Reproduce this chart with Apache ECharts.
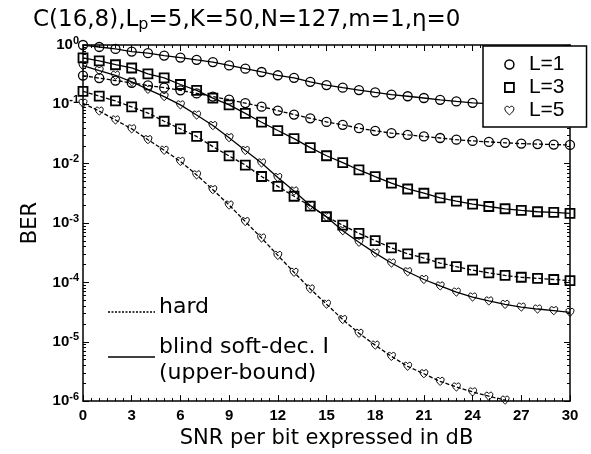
<!DOCTYPE html>
<html>
<head>
<meta charset="utf-8">
<script src="https://cdn.jsdelivr.net/npm/echarts@6/dist/echarts.min.js"></script>
<style>
  html, body { margin: 0; padding: 0; background: #fff; }
  #chart { width: 591px; height: 454px; }
</style>
</head>
<body>
<div id="chart"></div>
<script>
// SNR per bit (dB)
var snr = [0, 1, 2, 3, 4, 5, 6, 7, 8, 9, 10, 11, 12, 13, 14, 15, 16, 17, 18, 19, 20, 21, 22, 23, 24, 25, 26, 27, 28, 29, 30];
var xTicks = [0, 3, 6, 9, 12, 15, 18, 21, 24, 27, 30];

// blind soft-dec. I (upper-bound), solid
var l1Soft = [1.0, 0.926, 0.858, 0.774, 0.728, 0.664, 0.615, 0.563, 0.516, 0.453, 0.399, 0.351, 0.309, 0.280, 0.240, 0.211, 0.191, 0.174, 0.159, 0.146, 0.137, 0.128, 0.119, 0.112, 0.106, 0.103, 0.0995, 0.097, 0.095, 0.093, 0.0915];
var l3Soft = [0.608, 0.542, 0.465, 0.410, 0.326, 0.280, 0.216, 0.172, 0.127, 0.098, 0.0705, 0.050, 0.0362, 0.0264, 0.0187, 0.0136, 0.0104, 0.00784, 0.00604, 0.00471, 0.00375, 0.00318, 0.00265, 0.00234, 0.00209, 0.00190, 0.00174, 0.00163, 0.00155, 0.00151, 0.00146];
var l5Soft = [0.448, 0.370, 0.309, 0.240, 0.179, 0.135, 0.098, 0.066, 0.0439, 0.0274, 0.0167, 0.0103, 0.00586, 0.00347, 0.00198, 0.00127, 0.000743, 0.000475, 0.000311, 0.000212, 0.000151, 0.000112, 0.0000871, 0.0000687, 0.0000567, 0.0000487, 0.0000426, 0.0000384, 0.0000356, 0.0000334, 0.0000313];

// hard decision, dashed
var l1Hard = [0.305, 0.277, 0.252, 0.231, 0.208, 0.191, 0.172, 0.153, 0.135, 0.120, 0.105, 0.0915, 0.0785, 0.0673, 0.0582, 0.0506, 0.0451, 0.0397, 0.0358, 0.0328, 0.0307, 0.0288, 0.0271, 0.0254, 0.0242, 0.0233, 0.0225, 0.0218, 0.0214, 0.0210, 0.0207];
var l3Hard = [0.1655, 0.138, 0.114, 0.0908, 0.0713, 0.0519, 0.0386, 0.0288, 0.0194, 0.0135, 0.00949, 0.00609, 0.00415, 0.00283, 0.00193, 0.00128, 0.00092, 0.00067, 0.000506, 0.000381, 0.000303, 0.000257, 0.000212, 0.000184, 0.000161, 0.000145, 0.000131, 0.000122, 0.000117, 0.000112, 0.000107];
var l5Hard = [0.1045, 0.0770, 0.0546, 0.0387, 0.0254, 0.01686, 0.01094, 0.00648, 0.00365, 0.00201, 0.00106, 0.000560, 0.000285, 0.000148, 0.0000776, 0.0000430, 0.0000237, 0.0000139, 0.00000877, 0.00000567, 0.00000386, 0.00000289, 0.00000215, 0.00000173, 0.00000143, 0.00000121, 0.00000104];

var heart = 'path://M10,18 C10,18 1,12 1,6 C1,3 3,1 5.5,1 C7.5,1 9,2.5 10,4 C11,2.5 12.5,1 14.5,1 C17,1 19,3 19,6 C19,12 10,18 10,18 Z';

function pairs(ys) {
  var out = [];
  for (var i = 0; i < ys.length; i++) out.push([snr[i], ys[i]]);
  return out;
}

function makeSeries(name, ys, symbol, size, bw, dashed) {
  return {
    name: name,
    type: 'line',
    data: pairs(ys),
    symbol: symbol,
    symbolSize: size,
    showAllSymbol: true,
    clip: true,
    itemStyle: { color: 'none', borderColor: '#000', borderWidth: bw },
    lineStyle: { color: '#000', width: 1.3, type: dashed ? [4, 2] : 'solid' },
    emphasis: { disabled: true },
    z: 3
  };
}

var tickFont = { fontFamily: 'Liberation Sans', fontWeight: 'bold', fontSize: 15, color: '#000' };

var chart = echarts.init(document.getElementById('chart'), null, { renderer: 'canvas' });
chart.setOption({
  animation: false,
  backgroundColor: '#fff',
  title: {
    text: 'C(16,8),L{sub|p}=5,K=50,N=127,m=1,η=0',
    left: 28,
    top: 2,
    textStyle: {
      fontFamily: 'DejaVu Sans', fontWeight: 'normal', fontSize: 23, color: '#000',
      rich: { sub: { fontFamily: 'DejaVu Sans', fontSize: 16, padding: [10, 0, 0, 0], color: '#000' } }
    }
  },
  grid: { left: 83, top: 45, right: 21, bottom: 48, containLabel: false },
  legend: {
    left: 483,
    top: 46,
    orient: 'vertical',
    backgroundColor: '#fff',
    borderColor: '#000',
    borderWidth: 1.5,
    borderRadius: 0,
    padding: [8, 22, 6, 21],
    itemGap: 2,
    itemWidth: 9,
    itemHeight: 9,
    selectedMode: false,
    textStyle: { fontFamily: 'Liberation Sans', fontSize: 21, color: '#000', lineHeight: 21, padding: [0, 0, 0, 10] },
    data: [
      { name: 'L=1', icon: 'circle', itemStyle: { color: '#fff', borderColor: '#000', borderWidth: 1.5 } },
      { name: 'L=3', icon: 'rect', itemStyle: { color: '#fff', borderColor: '#000', borderWidth: 1.8 } },
      { name: 'L=5', icon: heart, itemStyle: { color: '#fff', borderColor: '#000', borderWidth: 1 } }
    ],
    z: 10
  },
  xAxis: [
    {
      type: 'value', min: 0, max: 30, interval: 3, position: 'bottom',
      name: 'SNR per bit expressed in dB', nameLocation: 'middle', nameGap: 23,
      nameTextStyle: { fontFamily: 'DejaVu Sans', fontSize: 21, color: '#000' },
      axisLine: { onZero: false, lineStyle: { color: '#000', width: 1.5 } },
      axisTick: { inside: true, length: 6, lineStyle: { color: '#000' } },
      minorTick: { show: true, splitNumber: 6, length: 3, lineStyle: { color: '#000' } },
      axisLabel: Object.assign({ margin: 7, formatter: function (v) { return xTicks.indexOf(v) >= 0 ? String(v) : ''; } }, tickFont),
      splitLine: { show: false }
    },
    {
      type: 'value', min: 0, max: 30, interval: 3, position: 'top',
      axisLine: { onZero: false, lineStyle: { color: '#000', width: 1.5 } },
      axisTick: { inside: true, length: 6, lineStyle: { color: '#000' } },
      minorTick: { show: true, splitNumber: 6, length: 3, lineStyle: { color: '#000' } },
      axisLabel: { show: false },
      splitLine: { show: false }
    }
  ],
  yAxis: [
    {
      type: 'log', logBase: 10, min: 1e-6, max: 1, position: 'left',
      name: 'BER', nameLocation: 'middle', nameGap: 42, nameRotate: 90,
      nameTextStyle: { fontFamily: 'DejaVu Sans', fontSize: 21, color: '#000' },
      axisLine: { onZero: false, lineStyle: { color: '#000', width: 1.5 } },
      axisTick: { inside: true, length: 6, lineStyle: { color: '#000' } },
      minorTick: { show: true, splitNumber: 9, length: 3, lineStyle: { color: '#000' } },
      axisLabel: Object.assign({
        margin: 4,
        formatter: function (v) {
          var e = Math.round(Math.log10(v));
          return '10{sup|' + e + '}';
        },
        rich: {
          sup: { fontFamily: 'Liberation Sans', fontWeight: 'bold', fontSize: 11, padding: [0, 0, 9, 0], color: '#000' }
        }
      }, tickFont),
      splitLine: { show: false }
    },
    {
      type: 'log', logBase: 10, min: 1e-6, max: 1, position: 'right',
      axisLine: { onZero: false, lineStyle: { color: '#000', width: 1.5 } },
      axisTick: { inside: true, length: 6, lineStyle: { color: '#000' } },
      minorTick: { show: true, splitNumber: 9, length: 3, lineStyle: { color: '#000' } },
      axisLabel: { show: false },
      splitLine: { show: false }
    }
  ],
  graphic: [
    { type: 'line', shape: { x1: 108, y1: 312, x2: 155, y2: 312 }, style: { stroke: '#000', lineWidth: 1.3, lineDash: [2, 1.5] }, z: 5 },
    { type: 'text', left: 159, top: 296, style: { text: 'hard', fontFamily: 'DejaVu Sans', fontSize: 22, fill: '#000' }, z: 5 },
    { type: 'line', shape: { x1: 108, y1: 357, x2: 155, y2: 357 }, style: { stroke: '#000', lineWidth: 1.3 }, z: 5 },
    { type: 'text', left: 159, top: 336, style: { text: 'blind soft-dec. I', fontFamily: 'DejaVu Sans', fontSize: 22, fill: '#000' }, z: 5 },
    { type: 'text', left: 159, top: 362, style: { text: '(upper-bound)', fontFamily: 'DejaVu Sans', fontSize: 22, fill: '#000' }, z: 5 }
  ],
  series: [
    makeSeries('L=1', l1Soft, 'circle', 9, 1.3, false),
    makeSeries('L=1', l1Hard, 'circle', 9, 1.3, true),
    makeSeries('L=3', l3Soft, 'rect', 9, 1.8, false),
    makeSeries('L=3', l3Hard, 'rect', 9, 1.8, true),
    makeSeries('L=5', l5Soft, heart, 8, 1, false),
    makeSeries('L=5', l5Hard, heart, 8, 1, true)
  ]
});
</script>
</body>
</html>
